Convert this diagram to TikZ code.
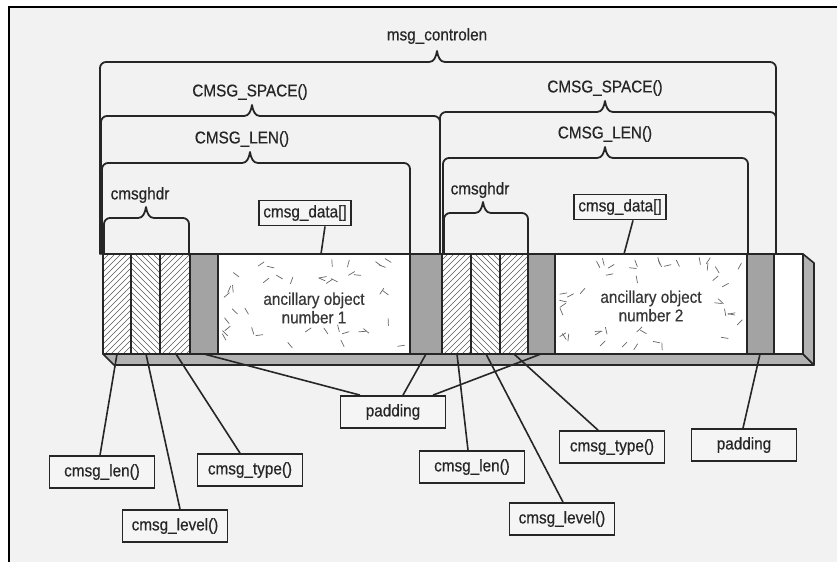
\documentclass[tikz,border=0pt]{standalone}
\usepackage{fontspec}
\setmainfont[FakeStretch=0.9,FakeBold=0.5]{Liberation Sans}
\usetikzlibrary{calc}
\newcommand\hatchseg[3]{%
  \begin{scope}
    \clip (#1,254) rectangle (#2,354);
    \foreach \k in {-130,-124,...,160} {\draw[hatch] (#1+\k,354) -- ++(#3*110,-110);}
  \end{scope}}
\newcommand\flecks[3]{%
  \pgfmathsetseed{#3}%
  \foreach \i in {1,...,60}{%
    \pgfmathsetmacro\rx{6+rnd*(#2-#1-12)}%
    \pgfmathsetmacro\ry{6+rnd*88}%
    \pgfmathsetmacro\ra{rnd*180}%
    \pgfmathtruncatemacro\inn{((\rx>30)&&(\rx<(#2-#1-30))&&(\ry>28)&&(\ry<72))?1:0}%
    \ifnum\inn=0 \draw[fleck] ($(#1+\rx,254+\ry)+(\ra:3.5)$) -- ++(\ra+180:7);\fi
  }}
\newcommand\brak[5]{% xl xr y xm ybot
  \draw[brace, rounded corners=6pt] (#1,#5) -- (#1,#3) -- (#4-8,#3);
  \draw[brace] (#4-8,#3) .. controls (#4-3,#3) and (#4-1,#3-5) .. (#4,#3-11)
               .. controls (#4+1,#3-5) and (#4+3,#3) .. (#4+8,#3);
  \draw[brace, rounded corners=6pt] (#4+8,#3) -- (#2,#3) -- (#2,#5);}
\begin{document}
\begin{tikzpicture}[x=1pt,y=-1pt,
  lab/.style={font=\fontsize{17}{18.5}\selectfont, text=black!85, inner sep=0pt},
  boxlab/.style={draw=black!85, line width=1.8pt, fill=black!4, font=\fontsize{17}{18.5}\selectfont,
                 text=black!85, minimum width=105pt, minimum height=32pt, inner sep=2pt},
  datbox/.style={boxlab, minimum width=74pt, minimum height=25pt, inner sep=4pt},
  brace/.style={draw=black!85, line width=1.8pt, line cap=round, line join=round},
  conn/.style={draw=black!85, line width=1.6pt},
  hatch/.style={draw=black!65, line width=0.55pt},
  fleck/.style={draw=black!60, line width=0.7pt, line cap=round},
  outline/.style={draw=black!85, line width=1.6pt, line join=round},
  padfill/.style={fill=black!36},
  facefill/.style={fill=black!30},
]
\useasboundingbox (0,0) rectangle (837,562);
\fill[white] (0,0) rectangle (837,562);
\fill[black!5] (9,7) rectangle (837,562);
\draw[line width=2pt] (9,562) -- (9,7) -- (837,7);

% ---------- 3D bar ----------
\filldraw[outline, facefill] (103,354) -- (803,354) -- (814,365) -- (114,365) -- cycle;
\filldraw[outline, facefill] (803,254) -- (814,263) -- (814,365) -- (803,354) -- cycle;
\fill[white] (103,254) rectangle (803,354);
\hatchseg{103}{131}{1}
\hatchseg{131}{160}{-1}
\hatchseg{160}{190}{1}
\hatchseg{442}{471}{1}
\hatchseg{471}{500}{-1}
\hatchseg{500}{528}{1}
\fill[padfill] (190,254) rectangle (218,354);
\fill[padfill] (410,254) rectangle (442,354);
\fill[padfill] (528,254) rectangle (555,354);
\fill[padfill] (747,254) rectangle (774,354);
\flecks{218}{410}{11}
\flecks{555}{747}{23}
\draw[outline] (103,254) rectangle (803,354);
\foreach \xx in {131,160,190,218,410,442,471,500,528,555,747,774}
  \draw[outline] (\xx,254) -- (\xx,354);

\node[lab, align=center, text=black!78] (anc1) at (314,308) {ancillary object\\number 1};
\node[lab, align=center, text=black!78] (anc2) at (651,306) {ancillary object\\number 2};

% ---------- brackets ----------
\brak{100}{776}{62}{437}{254}
\node[lab] (ctrl) at (437,36) {msg\_controlen};
\brak{101}{440}{116}{252}{254}
\node[lab] (sp1) at (250,92) {CMSG\_SPACE()};
\brak{440}{776}{112}{605}{254}
\node[lab] (sp2) at (605,88) {CMSG\_SPACE()};
\brak{102}{410}{163}{250}{254}
\node[lab] (ln1) at (242,139) {CMSG\_LEN()};
\brak{443}{748}{158}{605}{254}
\node[lab] (ln2) at (605,134) {CMSG\_LEN()};
\brak{104}{189}{218}{146}{254}
\node[lab] (hd1) at (140,195) {cmsghdr};
\brak{444}{528}{213}{483}{254}
\node[lab] (hd2) at (480,190) {cmsghdr};

% ---------- data boxes ----------
\node[datbox] (dat1) at (305,213) {cmsg\_data[]};
\node[datbox] (dat2) at (620,207) {cmsg\_data[]};
\coordinate (t1) at (321,254);
\coordinate (t2) at (624,254);
\draw[conn] ([xshift=20pt]dat1.south) -- (t1);
\draw[conn] ([xshift=13pt]dat2.south) -- (t2);

% ---------- bottom boxes ----------
\node[boxlab] (len1) at (102,472) {cmsg\_len()};
\node[boxlab] (lev1) at (175,526) {cmsg\_level()};
\node[boxlab] (typ1) at (250,470) {cmsg\_type()};
\node[boxlab] (pad1) at (393,412) {padding};
\node[boxlab] (len2) at (472,467) {cmsg\_len()};
\node[boxlab] (typ2) at (612,447) {cmsg\_type()};
\node[boxlab] (pad2) at (744,445) {padding};
\node[boxlab] (lev2) at (562,519) {cmsg\_level()};

\coordinate (b1) at (117,354);
\coordinate (b2) at (146,354);
\coordinate (b3) at (176,354);
\coordinate (g1) at (204,354);
\coordinate (g2) at (426,354);
\coordinate (g3) at (541,354);
\coordinate (b4) at (457,354);
\coordinate (b5) at (486,354);
\coordinate (b6) at (514,354);
\coordinate (g4) at (760,354);

\draw[conn] ([xshift=-2pt]len1.north) -- (b1);
\draw[conn] ([xshift=5pt]lev1.north) -- (b2);
\draw[conn] ([xshift=-10pt]typ1.north) -- (b3);
\draw[conn] ([xshift=-33pt]pad1.north) -- (g1);
\draw[conn] ([xshift=10pt]pad1.north) -- (g2);
\draw[conn] ([xshift=40pt]pad1.north) -- (g3);
\draw[conn] ([xshift=-4pt]len2.north) -- (b4);
\draw[conn] ([xshift=1pt]lev2.north) -- (b5);
\draw[conn] ([xshift=-14pt]typ2.north) -- (b6);
\draw[conn] ([xshift=-1pt]pad2.north) -- (g4);
\end{tikzpicture}
\end{document}
